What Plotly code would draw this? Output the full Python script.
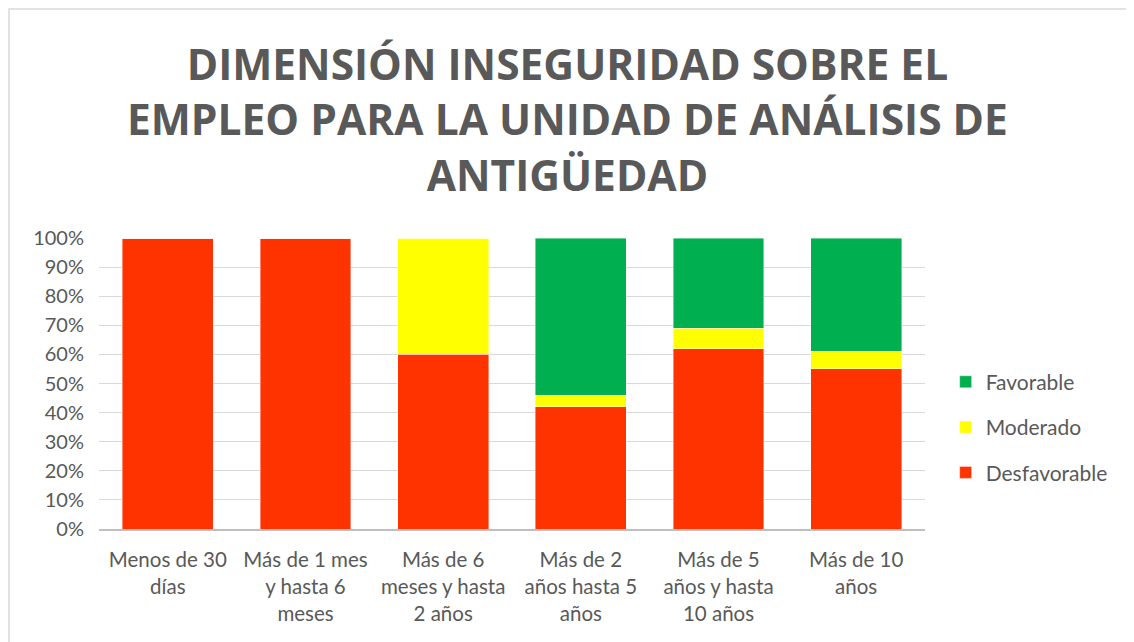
import plotly.graph_objects as go

categories = [
    "Menos de 30<br>días",
    "Más de 1 mes<br>y hasta 6<br>meses",
    "Más de 6<br>meses y hasta<br>2 años",
    "Más de 2<br>años hasta 5<br>años",
    "Más de 5<br>años y hasta<br>10 años",
    "Más de 10<br>años",
]
desfavorable = [1.00, 1.00, 0.60, 0.42, 0.62, 0.55]
moderado = [0.00, 0.00, 0.40, 0.04, 0.07, 0.06]
favorable = [0.00, 0.00, 0.00, 0.54, 0.31, 0.39]

title_text = "DIMENSIÓN INSEGURIDAD SOBRE EL<br>EMPLEO PARA LA UNIDAD DE ANÁLISIS DE<br>ANTIGÜEDAD"

gray = "#595959"
fig = go.Figure()
for rank, (name, vals, col) in enumerate([
    ("Desfavorable", desfavorable, "#FF3300"),
    ("Moderado", moderado, "#FFFF00"),
    ("Favorable", favorable, "#00B050"),
]):
    fig.add_trace(go.Bar(
        name=name, x=categories, y=vals, legendgroup=name, legendrank=1000 - rank,
        marker=dict(color=col, line=dict(color="rgba(255,255,255,0.6)", width=0.7)),
    ))

fig.update_layout(
    width=1134, height=642,
    barmode="stack", bargap=0.34,
    paper_bgcolor="white", plot_bgcolor="white",
    margin=dict(l=91, r=217, t=230, b=121, autoexpand=False),
    font=dict(family="Lato, Open Sans, sans-serif", color=gray, size=20),
    legend=dict(
        x=1.025, xanchor="left", y=0.35, yanchor="middle",
        font=dict(size=21, color=gray), itemwidth=30,
        tracegroupgap=15, traceorder="grouped",
    ),
    showlegend=True,
)
fig.add_annotation(
    text=title_text, xref="paper", yref="paper", x=0.5675, y=1.41,
    xanchor="center", yanchor="middle", showarrow=False,
    font=dict(family="Open Sans, sans-serif", size=42.5, color=gray, weight="bold"),
)
fig.update_yaxes(
    range=[0, 1], tickformat=".0%", dtick=0.1,
    showgrid=True, gridcolor="#D9D9D9", gridwidth=1,
    zeroline=False, ticks="", tickfont=dict(size=20, color=gray),
    showline=False, ticklabelstandoff=14,
)
fig.update_xaxes(
    showline=True, linecolor="#BFBFBF", linewidth=1.5,
    ticks="", tickfont=dict(size=20.5, color=gray), ticklabelstandoff=12,
)
fig.add_shape(
    type="rect", xref="paper", yref="paper",
    x0=-0.1089, x1=1.26, y0=-0.416, y1=1.787,
    line=dict(color="#D9D9D9", width=1.5), fillcolor="rgba(0,0,0,0)", layer="below",
)
fig.write_html("out.html")
